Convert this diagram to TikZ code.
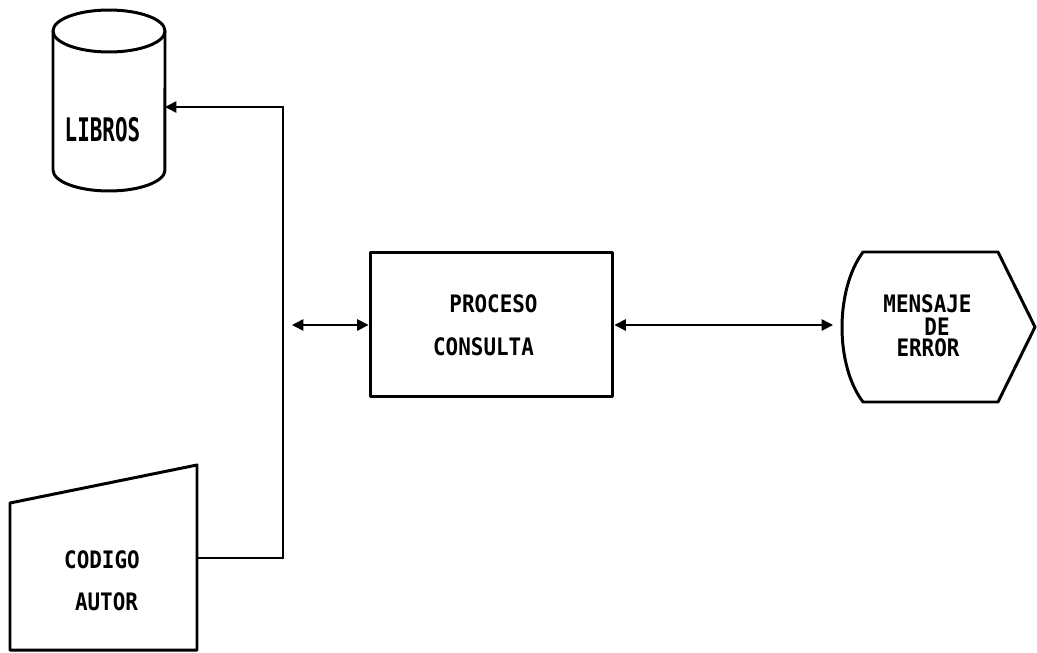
\documentclass[tikz,border=0pt]{standalone}
\usepackage{fontspec}
\newfontfamily\dfont{DejaVu Sans Mono}
\usetikzlibrary{arrows.meta}
\tikzset{
  shapeline/.style={line width=1.7pt, line join=round},
  conn/.style={line width=0.9pt},
  tip/.style={-{Triangle[length=6.5pt,width=6.5pt]}},
  dtip/.style={{Triangle[length=6.5pt,width=6.5pt]}-{Triangle[length=6.5pt,width=6.5pt]}},
  lbl/.style={font=\dfont\bfseries\fontsize{11.9}{12}\selectfont, inner sep=0pt, yscale=1.15},
  anchorbox/.style={draw=none, inner sep=0pt}
}
\begin{document}
\begin{tikzpicture}[x=0.02cm,y=-0.02cm]
\useasboundingbox (0,0) rectangle (1037,652);
% LIBROS cylinder
\draw[shapeline] (109,31) ellipse [x radius=1.12cm, y radius=0.42cm];
\draw[shapeline] (53,31) -- (53,170) arc[start angle=180, end angle=360, x radius=1.12cm, y radius=0.42cm] -- (165,31);
\node[anchorbox, minimum width=2.24cm, minimum height=3.6cm] (libros) at (109,100) {};
\node[lbl, yscale=1.35] (librosT) at (102.5,130) {LIBROS};
% CODIGO AUTOR manual input
\draw[shapeline] (10,503) -- (197,465) -- (197,650) -- (10,650) -- cycle;
\node[anchorbox, minimum width=3.74cm, minimum height=3.7cm] (codigo) at (103.5,557.5) {};
\node[lbl] (codigoT) at (102,559.5) {CODIGO};
\node[lbl] (autorT) at (106.5,601.5) {AUTOR};
% PROCESO CONSULTA
\node[draw, shapeline, minimum width=4.86cm, minimum height=2.9cm, inner sep=0pt] (proc) at (491.5,324.5) {};
\node[lbl] (procT1) at (493.5,303.5) {PROCESO};
\node[lbl] (procT2) at (483.5,346.5) {CONSULTA};
% MENSAJE DE ERROR display
\draw[shapeline] (863,252) -- (998,252) -- (1035,327) -- (998,402) -- (863,402)
  .. controls (835,365) and (835,290) .. (863,252) -- cycle;
\node[anchorbox, minimum width=3.9cm, minimum height=3cm] (msg) at (938.5,327) {};
\node[lbl] (msgT1) at (927.5,304) {MENSAJE};
\node[lbl] (msgT2) at (937,326.5) {DE};
\node[lbl] (msgT3) at (928,348) {ERROR};
% connectors
\coordinate (librosIn) at (165,107);
\coordinate (codOut) at (197,558);
\coordinate (bend) at (283,558);
\coordinate (leftEnd) at (292,325);
\coordinate (msgIn) at (833,325);
\draw[conn, tip] (codOut) -- (bend) |- (librosIn);
\draw[conn, dtip] (leftEnd) -- (proc.west |- leftEnd);
\draw[conn, dtip] (proc.east |- msgIn) -- (msgIn);
\end{tikzpicture}
\end{document}
